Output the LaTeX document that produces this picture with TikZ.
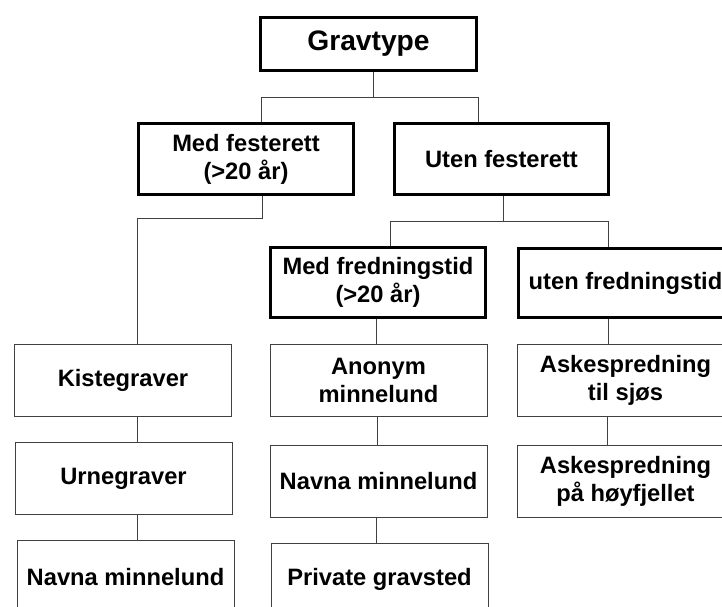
\documentclass[tikz,border=0pt]{standalone}
\usepackage{fontspec}
\setmainfont{Liberation Sans}
\begin{document}
\begin{tikzpicture}[x=1pt,y=-1pt,
  boxbase/.style={rectangle, inner sep=0pt, align=center, font=\fontsize{23.7}{28}\selectfont\bfseries},
  thickbox/.style={boxbase, draw=black, line width=3pt},
  thinbox/.style={boxbase, draw=black!75, line width=1pt},
  conn/.style={draw=black!75, line width=1pt}]
\useasboundingbox (0,0) rectangle (722,607);
\clip (0,0) rectangle (722,607);
% top level
\node[thickbox, minimum width=216pt, minimum height=53pt, font=\fontsize{28.2}{33}\selectfont\bfseries] (grav) at (368.5,44) {Gravtype};
\node[thickbox, minimum width=215pt, minimum height=71pt] (mf) at (246,159) {Med festerett\\(>20 år)};
\node[thickbox, minimum width=214pt, minimum height=71pt] (uf) at (501.5,159) {Uten festerett};
\node[thickbox, minimum width=215pt, minimum height=70pt] (mfr) at (378,282.5) {Med fredningstid\\(>20 år)};
\node[thickbox, minimum width=214pt, minimum height=69pt] (ufr) at (625.5,283) {uten fredningstid};
% left column
\node[thinbox, minimum width=217pt, minimum height=72pt] (kiste) at (123,380.5) {Kistegraver};
\node[thinbox, minimum width=217pt, minimum height=72pt] (urne) at (123.5,478.5) {Urnegraver};
\node[thinbox, minimum width=217pt, minimum height=73pt] (navnaA) at (125.5,577) {Navna minnelund};
% middle column
\node[thinbox, minimum width=217pt, minimum height=72pt] (anonym) at (378.5,380.5) {Anonym\\minnelund};
\node[thinbox, minimum width=217pt, minimum height=72pt] (navnaB) at (378.5,481) {Navna minnelund};
\node[thinbox, minimum width=217pt, minimum height=73pt] (private) at (379.5,579.5) {Private gravsted};
% right column
\node[thinbox, minimum width=217pt, minimum height=72pt] (askeA) at (625.5,380.5) {Askespredning\\til sjøs};
\node[thinbox, minimum width=217pt, minimum height=72pt] (askeB) at (625.5,481) {Askespredning\\på høyfjellet};
% junction coordinates
\coordinate (j0) at (373,98);
\coordinate (j1) at (261,98);
\coordinate (j2) at (478,98);
\coordinate (k0) at (262,218);
\coordinate (k1) at (137,218);
\coordinate (m0) at (503,221);
\coordinate (m1) at (390,221);
\coordinate (m2) at (608,221);
\coordinate (cA) at (376,0);
\coordinate (cB) at (377,0);
\coordinate (cR) at (608,0);
\coordinate (cR2) at (607,0);
% connectors
\draw[conn] (grav.south -| j0) -- (j0);
\draw[conn] (mf.north -| j1) -- (j1) -- (j2) -- (uf.north -| j2);
\draw[conn] (mf.south -| k0) -- (k0) -- (k1) -- (kiste.north -| k1);
\draw[conn] (kiste.south -| k1) -- (urne.north -| k1);
\draw[conn] (urne.south -| k1) -- (navnaA.north -| k1);
\draw[conn] (uf.south -| m0) -- (m0);
\draw[conn] (mfr.north -| m1) -- (m1) -- (m2) -- (ufr.north -| m2);
\draw[conn] (mfr.south -| cA) -- (anonym.north -| cA);
\draw[conn] (anonym.south -| cB) -- (navnaB.north -| cB);
\draw[conn] (navnaB.south -| cA) -- (private.north -| cA);
\draw[conn] (ufr.south -| cR) -- (askeA.north -| cR);
\draw[conn] (askeA.south -| cR2) -- (askeB.north -| cR2);
\end{tikzpicture}
\end{document}
